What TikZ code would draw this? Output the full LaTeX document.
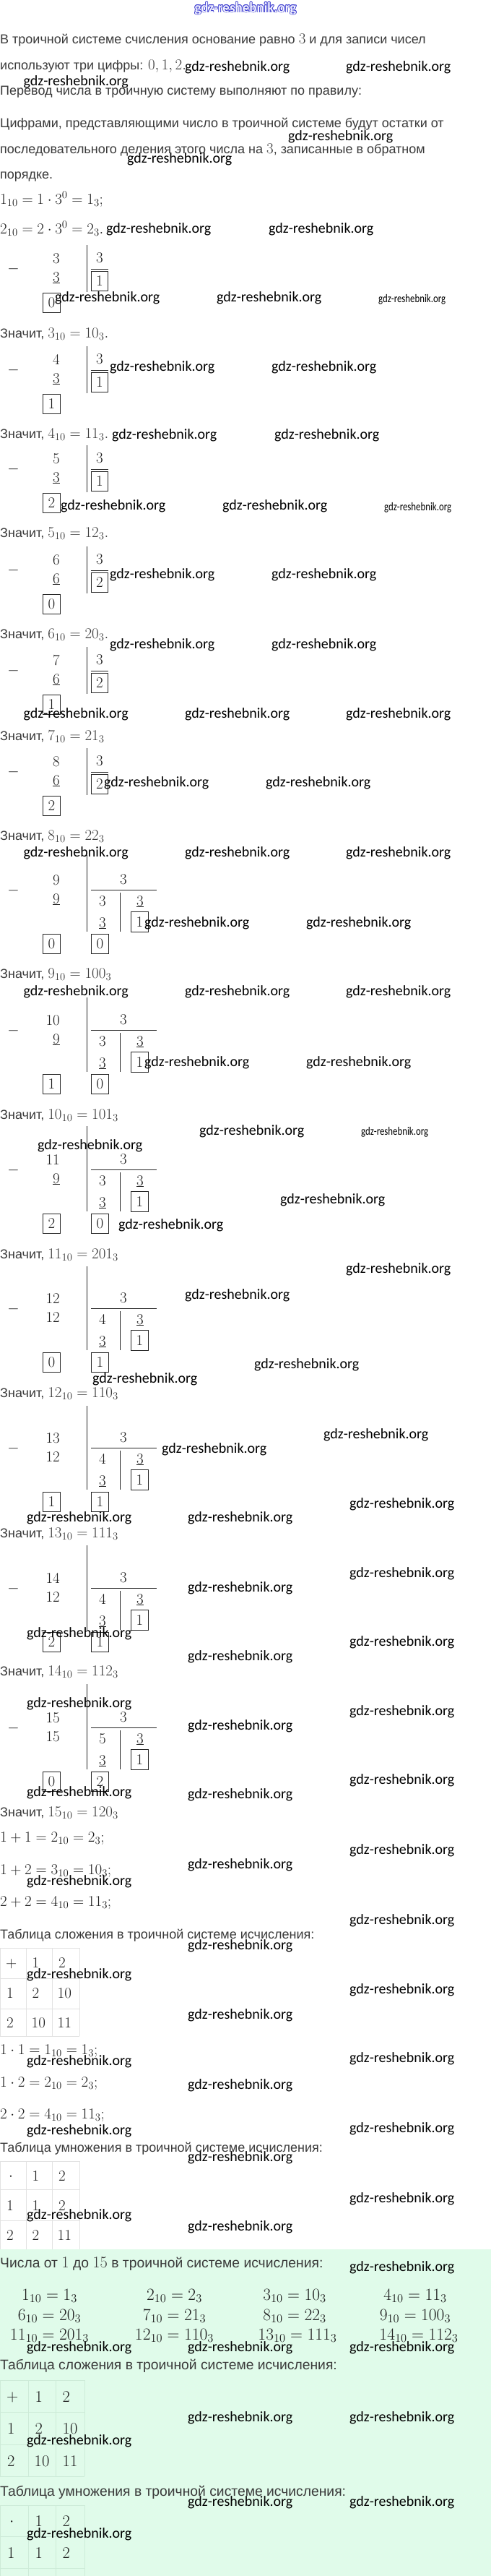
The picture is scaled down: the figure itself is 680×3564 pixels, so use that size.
\RequirePackage{fix-cm}
\documentclass[tikz,border=0pt]{standalone}
\usepackage{fontspec}
\newfontfamily\rufont{Liberation Sans}
\newfontfamily\wmfont{Carlito}
\definecolor{txtc}{HTML}{3A3A3A}
\definecolor{mathc}{HTML}{1E1E1E}
\definecolor{wmblue}{HTML}{3F3FD0}
\definecolor{wmfill}{HTML}{F2F2FF}
\definecolor{mint}{HTML}{E0FBEA}
\definecolor{gridc}{HTML}{E2E2E2}
\definecolor{gridg}{HTML}{CDEBD8}
\newcommand{\mq}[1]{{\fontsize{21bp}{25bp}\selectfont$#1$}}
\newcommand{\mqg}[1]{{\fontsize{22.5bp}{26bp}\selectfont$#1$}}
\tikzset{
  tx/.style={anchor=base west, inner sep=0pt, text=txtc, font={\rufont\fontsize{18bp}{22bp}\selectfont}},
  txg/.style={tx, font={\rufont\fontsize{19.3bp}{23bp}\selectfont}},
  mth/.style={inner sep=0pt, text=mathc, font={\fontsize{21bp}{25bp}\selectfont}},
  mthg/.style={inner sep=0pt, text=mathc, font={\fontsize{22.5bp}{26bp}\selectfont}},
  mthb/.style={inner sep=0pt, text=mathc, font={\fontsize{23.5bp}{27bp}\selectfont}},
  wm/.style={anchor=base west, inner sep=0pt, text=black, font={\wmfont\fontsize{20bp}{24bp}\selectfont}},
  topwm/.style={anchor=base, inner sep=0pt, font={\wmfont\bfseries\fontsize{20bp}{24bp}\selectfont}},
  rl/.style={line width=0.8bp, draw=black!85},
  bx/.style={draw=black!85, line width=0.8bp, inner sep=0pt, minimum width=23.5bp, minimum height=27.5bp, text=mathc, font={\fontsize{21bp}{25bp}\selectfont}},
  gridw/.style={draw=gridc, line width=0.8bp},
  gridm/.style={draw=gridg, line width=0.8bp},
}
% simple division: id, d1, dividend, subtrahend, quotient, remainder
\newcommand{\onediv}[6]{%
  \coordinate (#1bt) at (120,#2-18); \coordinate (#1bb) at (120,#2+47);
  \draw[rl] (#1bt) -- (#1bb);
  \node[mth, anchor=base] (#1mn) at (18.5,#2+20) {$-$};
  \node[mth, anchor=base east] (#1dd) at (83,#2+7) {$#3$};
  \node[mth, anchor=base east] (#1sb) at (83,#2+33) {$\underline{#4}$};
  \node[mth, anchor=base] (#1dv) at (138,#2+6) {$3$};
  \coordinate (#1hl) at (126,#2+15); \coordinate (#1hr) at (150,#2+15);
  \draw[rl] (#1hl) -- (#1hr);
  \node[bx] (#1q) at (138,#2+32) {$#5$};
  \node[bx] (#1r) at (71.5,#2+62) {$#6$};
}
% two-level division: id, d1, bar top, dividend, subtrahend, second dividend, rem1, rem2
\newcommand{\twodiv}[8]{%
  \coordinate (#1bt) at (120,#3); \coordinate (#1bb) at (120,#2+72);
  \draw[rl] (#1bt) -- (#1bb);
  \node[mth, anchor=base] (#1mn) at (18.5,#2+20) {$-$};
  \node[mth, anchor=base east] (#1dd) at (83,#2+7) {$#4$};
  \node[mth, anchor=base east] (#1sb) at (83,#2+33) {$#5$};
  \node[mth, anchor=base] (#1dv) at (171,#2+6) {$3$};
  \coordinate (#1hl) at (126,#2+14); \coordinate (#1hr) at (217,#2+14);
  \draw[rl] (#1hl) -- (#1hr);
  \node[mth, anchor=base] (#1a) at (142,#2+36) {$#6$};
  \node[mth, anchor=base] (#1b) at (142,#2+66) {$\underline{3}$};
  \coordinate (#1ct) at (166,#2+18); \coordinate (#1cb) at (166,#2+72);
  \draw[rl] (#1ct) -- (#1cb);
  \node[mth, anchor=base] (#1c) at (194,#2+36) {$\underline{3}$};
  \node[bx] (#1q) at (193.5,#2+58.5) {$1$};
  \node[bx] (#1r) at (71.5,#2+89) {$#7$};
  \node[bx] (#1s) at (138.5,#2+89) {$#8$};
}
\begin{document}
\begin{tikzpicture}[x=1bp,y=-1bp]
\useasboundingbox (0,0) rectangle (680,3564);
\fill[white] (0,0) rectangle (680,3564);
\fill[mint] (0,3112) rectangle (680,3564);

% outlined blue watermark at the top
\foreach \dx/\dy [count=\i] in {-0.8/0,0.8/0,0/-0.8,0/0.8,-0.6/-0.6,0.6/0.6,-0.6/0.6,0.6/-0.6}
  \node[topwm, text=wmblue] (topo\i) at (340+\dx,17+\dy) {\scalebox{0.95}[1]{gdz-reshebnik.org}};
\node[topwm, text=wmfill] (top) at (340,17) {\scalebox{0.95}[1]{gdz-reshebnik.org}};

\node[tx] (l1) at (0,60) {В троичной системе счисления основание равно \mq{3} и для записи чисел};
\node[tx] (l2) at (0,96) {используют три цифры: \mq{0, 1, 2.}};
\node[tx] (l3) at (0,131) {Перевод числа в троичную систему выполняют по правилу:};
\node[tx] (l4) at (0,176) {Цифрами, представляющими число в троичной системе будут остатки от};
\node[tx] (l5) at (0,212) {последовательного деления этого числа на \mq{3}, записанные в обратном};
\node[tx] (l6) at (0,247) {порядке.};
\node[mth, anchor=base west] (m1) at (0,282) {$1_{10}=1\cdot 3^0=1_3;$};
\node[mth, anchor=base west] (m2) at (0,323) {$2_{10}=2\cdot 3^0=2_3.$};

\onediv{A}{357}{3}{3}{1}{0}
\node[tx] (z3) at (0,467) {Значит, \mq{3_{10}=10_3.}};
\onediv{B}{497}{4}{3}{1}{1}
\node[tx] (z4) at (0,606) {Значит, \mq{4_{10}=11_3.}};
\onediv{C}{634}{5}{3}{1}{2}
\node[tx] (z5) at (0,743) {Значит, \mq{5_{10}=12_3.}};
\onediv{D}{774}{6}{6}{2}{0}
\node[tx] (z6) at (0,883) {Значит, \mq{6_{10}=20_3.}};
\onediv{E}{913}{7}{6}{2}{1}
\node[tx] (z7) at (0,1024) {Значит, \mq{7_{10}=21_3}};
\onediv{F}{1053}{8}{6}{2}{2}
\node[tx] (z8) at (0,1162) {Значит, \mq{8_{10}=22_3}};
\twodiv{G}{1217}{1183}{9}{\underline{9}}{3}{0}{0}
\node[tx] (z9) at (0,1353) {Значит, \mq{9_{10}=100_3}};
\twodiv{H}{1411}{1380}{10}{\underline{9}}{3}{1}{0}
\node[tx] (z10) at (0,1548) {Значит, \mq{10_{10}=101_3}};
\twodiv{I}{1604}{1558}{11}{\underline{9}}{3}{2}{0}
\node[tx] (z11) at (0,1741) {Значит, \mq{11_{10}=201_3}};
\twodiv{J}{1796}{1752}{12}{12}{4}{0}{1}
\node[tx] (z12) at (0,1933) {Значит, \mq{12_{10}=110_3}};
\twodiv{K}{1989}{1945}{13}{12}{4}{1}{1}
\node[tx] (z13) at (0,2127) {Значит, \mq{13_{10}=111_3}};
\twodiv{L}{2183}{2138}{14}{12}{4}{2}{1}
\node[tx] (z14) at (0,2318) {Значит, \mq{14_{10}=112_3}};
\twodiv{M}{2376}{2330}{15}{15}{5}{0}{2}
\node[tx] (z15) at (0,2513) {Значит, \mq{15_{10}=120_3}};

\node[mth, anchor=base west] (a1) at (0,2548) {$1+1=2_{10}=2_3;$};
\node[mth, anchor=base west] (a2) at (0,2593) {$1+2=3_{10}=10_3;$};
\node[mth, anchor=base west] (a3) at (0,2637) {$2+2=4_{10}=11_3;$};
\node[tx] (ta1) at (0,2682) {Таблица сложения в троичной системе исчисления:};

% addition table (white)
\foreach \yy in {2695,2737,2779,2817} \draw[gridw] (0.5,\yy) -- (110,\yy);
\foreach \xx in {0.5,36,72,110} \draw[gridw] (\xx,2695) -- (\xx,2817);
\node[mth, anchor=base west] (p11) at (8,2722) {$+$};
\node[mth, anchor=base west] (p12) at (44.5,2722) {$1$};
\node[mth, anchor=base west] (p13) at (81,2722) {$2$};
\node[mth, anchor=base west] (p21) at (9,2764) {$1$};
\node[mth, anchor=base west] (p22) at (44.5,2764) {$2$};
\node[mth, anchor=base west] (p23) at (79.5,2764) {$10$};
\node[mth, anchor=base west] (p31) at (9,2805) {$2$};
\node[mth, anchor=base west] (p32) at (43.5,2805) {$10$};
\node[mth, anchor=base west] (p33) at (79.5,2805) {$11$};

\node[mth, anchor=base west] (b1) at (0,2842) {$1\cdot 1=1_{10}=1_3;$};
\node[mth, anchor=base west] (b2) at (0,2887) {$1\cdot 2=2_{10}=2_3;$};
\node[mth, anchor=base west] (b3) at (0,2931) {$2\cdot 2=4_{10}=11_3;$};
\node[tx] (tm1) at (0,2977) {Таблица умножения в троичной системе исчисления:};

% multiplication table (white)
\foreach \yy in {2990,3029,3072} \draw[gridw] (0.5,\yy) -- (110,\yy);
\foreach \xx in {0.5,36,72,110} \draw[gridw] (\xx,2990) -- (\xx,3112);
\node[mth, anchor=base west] (q11) at (12,3016) {$\cdot$};
\node[mth, anchor=base west] (q12) at (44.5,3017) {$1$};
\node[mth, anchor=base west] (q13) at (81,3017) {$2$};
\node[mth, anchor=base west] (q21) at (9,3058) {$1$};
\node[mth, anchor=base west] (q22) at (44.5,3058) {$1$};
\node[mth, anchor=base west] (q23) at (81,3058) {$2$};
\node[mth, anchor=base west] (q31) at (9,3099) {$2$};
\node[mth, anchor=base west] (q32) at (44.5,3099) {$2$};
\node[mth, anchor=base west] (q33) at (79.5,3099) {$11$};

% green block
\node[txg] (g0) at (0,3137) {Числа от \mqg{1} до \mqg{15} в троичной системе исчисления:};
\node[mthb, anchor=base] (n1) at (68.5,3182) {$1_{10}=1_3$};
\node[mthb, anchor=base] (n2) at (241.5,3182) {$2_{10}=2_3$};
\node[mthb, anchor=base] (n3) at (408,3182) {$3_{10}=10_3$};
\node[mthb, anchor=base] (n4) at (575,3182) {$4_{10}=11_3$};
\node[mthb, anchor=base] (n6) at (68.5,3210) {$6_{10}=20_3$};
\node[mthb, anchor=base] (n7) at (241.5,3210) {$7_{10}=21_3$};
\node[mthb, anchor=base] (n8) at (408,3210) {$8_{10}=22_3$};
\node[mthb, anchor=base] (n9) at (575,3210) {$9_{10}=100_3$};
\node[mthb, anchor=base] (n11) at (68.5,3237) {$11_{10}=201_3$};
\node[mthb, anchor=base] (n12) at (241.5,3237) {$12_{10}=110_3$};
\node[mthb, anchor=base] (n13) at (412,3237) {$13_{10}=111_3$};
\node[mthb, anchor=base] (n14) at (580,3237) {$14_{10}=112_3$};

\node[txg] (ta2) at (0,3278) {Таблица сложения в троичной системе исчисления:};
\foreach \yy in {3293,3337,3382,3426} \draw[gridm] (0.5,\yy) -- (117,\yy);
\foreach \xx in {0.5,39,77,117} \draw[gridm] (\xx,3293) -- (\xx,3426);
\node[mthg, anchor=base west] (r11) at (9,3322) {$+$};
\node[mthg, anchor=base west] (r12) at (48.5,3323) {$1$};
\node[mthg, anchor=base west] (r13) at (86.5,3323) {$2$};
\node[mthg, anchor=base west] (r21) at (10,3367) {$1$};
\node[mthg, anchor=base west] (r22) at (48.5,3367) {$2$};
\node[mthg, anchor=base west] (r23) at (86.5,3367) {$10$};
\node[mthg, anchor=base west] (r31) at (10,3412) {$2$};
\node[mthg, anchor=base west] (r32) at (47.5,3412) {$10$};
\node[mthg, anchor=base west] (r33) at (86.5,3412) {$11$};

\node[txg] (tm2) at (0,3453) {Таблица умножения в троичной системе исчисления:};
\foreach \yy in {3466,3509,3553} \draw[gridm] (0.5,\yy) -- (117,\yy);
\foreach \xx in {0.5,39,77,117} \draw[gridm] (\xx,3466) -- (\xx,3564);
\node[mthg, anchor=base west] (s11) at (13,3494) {$\cdot$};
\node[mthg, anchor=base west] (s12) at (48.5,3495) {$1$};
\node[mthg, anchor=base west] (s13) at (86.5,3495) {$2$};
\node[mthg, anchor=base west] (s21) at (10,3539) {$1$};
\node[mthg, anchor=base west] (s22) at (48.5,3539) {$1$};
\node[mthg, anchor=base west] (s23) at (86.5,3539) {$2$};

% watermarks
\foreach \px/\py [count=\i] in {256/98,479/98,32.5/118,399/194,176/225,
  147/322,372/322,76/417,300/417,152/513,376/513,
  155/607,380/607,84/705,308/705,152/800,376/800,152/897,376/897,
  32.5/993,256/993,479/993,144/1088,368/1088,32.5/1185,256/1185,479/1185,
  200/1282,424/1282,32.5/1377,256/1377,479/1377,200/1475,424/1475,
  276/1570,52/1590,388/1665,164/1700,479/1761,256/1797,
  352/1893,128/1913,448/1990,224/2010,484/2086,
  37/2105,260/2105,484/2182,260/2202,37/2265,484/2277,260/2297,37/2362,484/2373,260/2393,
  484/2468,37/2485,260/2488,484/2565,260/2585,37/2608,484/2662,260/2697,
  37/2737,484/2758,260/2793,37/2857,484/2853,260/2890,37/2953,484/2950,260/2990,
  484/3047,37/3070,260/3086,484/3142,37/3253,260/3253,484/3253,
  260/3350,484/3350,37/3382,260/3467,484/3467,37/3511}
  \node[wm] (w\i) at (\px,\py) {gdz-reshebnik.org};
\foreach \px/\py [count=\i] in {524/418,532/706,500/1570}
  \node[wm, font={\wmfont\fontsize{16bp}{19bp}\selectfont}] (ws\i) at (\px,\py) {\scalebox{0.8}[1]{gdz-reshebnik.org}};
\end{tikzpicture}
\end{document}
